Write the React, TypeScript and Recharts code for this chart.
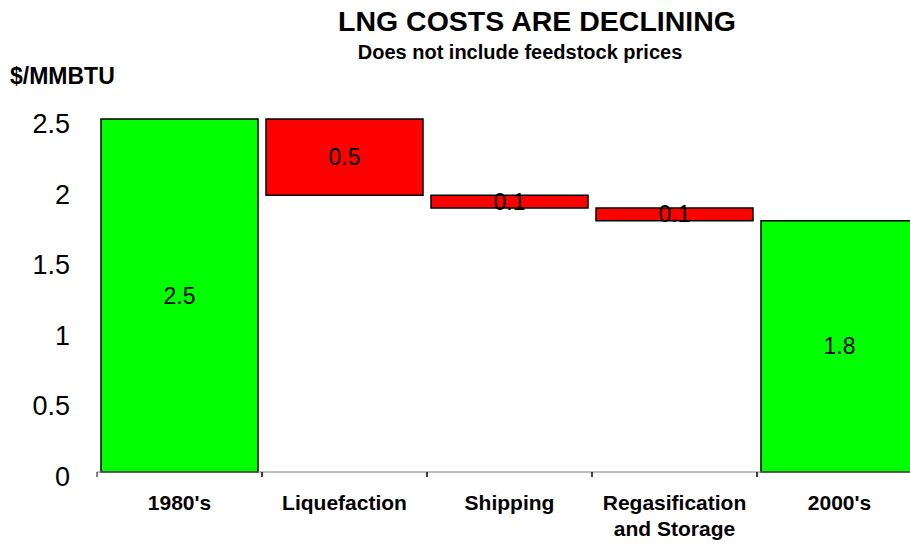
import { BarChart, Bar, XAxis, YAxis, Cell, LabelList } from "recharts";

// waterfall steps, $/MMBTU
const categories = ["1980's", "Liquefaction", "Shipping", "Regasification and Storage", "2000's"];
const costs = [2.5, 0.54, 0.09, 0.09, 1.78];
const kinds = ["total", "step", "step", "step", "total"];
const yTicks = [0, 0.5, 1, 1.5, 2, 2.5];

const FONT = "'Liberation Sans', Arial, Helvetica, sans-serif";
const PLOT_LEFT = 97;
const PLOT_RIGHT = 922;
const BAND = (PLOT_RIGHT - PLOT_LEFT) / categories.length;

function buildRows() {
  let level = 0;
  return categories.map((name, i) => {
    const v = costs[i];
    if (kinds[i] === "total") {
      level = v;
      return { name, base: 0, delta: v, kind: kinds[i] };
    }
    level = level - v;
    return { name, base: level, delta: v, kind: kinds[i] };
  });
}

const rows = buildRows();

function CategoryTick(props: any) {
  const { x, y, payload } = props;
  const words = String(payload.value);
  const lines = words === "Regasification and Storage" ? ["Regasification", "and Storage"] : [words];
  const left = x - BAND / 2;
  return (
    <g>
      <line x1={left} y1={y} x2={left} y2={y + 5} stroke="#000" strokeWidth={1} />
      <line x1={left + BAND} y1={y} x2={left + BAND} y2={y + 5} stroke="#000" strokeWidth={1} />
      {lines.map((ln, i) => (
        <text
          key={i}
          x={x}
          y={y + 38 + i * 26}
          textAnchor="middle"
          fontFamily={FONT}
          fontWeight="bold"
          fontSize={21}
          fill="#000"
        >
          {ln}
        </text>
      ))}
    </g>
  );
}

function ValueTick(props: any) {
  const { x, y, payload } = props;
  return (
    <text x={x} y={y + 14} textAnchor="end" fontFamily={FONT} fontSize={27} fill="#000">
      {payload.value}
    </text>
  );
}

export default function App() {
  return (
    <div style={{ position: "fixed", left: 0, top: 0, width: 910, height: 545, overflow: "hidden", background: "#fff" }}>
      <BarChart
        width={925}
        height={545}
        data={rows}
        margin={{ top: 119, right: 925 - PLOT_RIGHT, bottom: 0, left: 0 }}
        barCategoryGap={4}
      >
        <XAxis
          dataKey="name"
          interval={0}
          tickSize={0}
          tickMargin={0}
          tickLine={false}
          height={73}
          axisLine={{ stroke: "#808080", strokeWidth: 1 }}
          tick={(p: any) => <CategoryTick {...p} />}
        />
        <YAxis
          domain={[0, 2.5]}
          ticks={yTicks}
          width={PLOT_LEFT}
          axisLine={false}
          tickLine={false}
          tickSize={0}
          tickMargin={27}
          tick={(p: any) => <ValueTick {...p} />}
        />
        <Bar dataKey="base" stackId="w" fill="transparent" stroke="none" isAnimationActive={false} />
        <Bar dataKey="delta" stackId="w" stroke="#000" strokeWidth={1.5} isAnimationActive={false}>
          {rows.map((r, i) => (
            <Cell key={i} fill={r.kind === "total" ? "#00ff00" : "#ff0000"} />
          ))}
          <LabelList
            dataKey="delta"
            position="center"
            formatter={(v: any) => Number(v).toFixed(1)}
            style={{ fontFamily: FONT, fontSize: 23, fill: "#000" }}
          />
        </Bar>
      </BarChart>
      <svg width={910} height={100} style={{ position: "absolute", left: 0, top: 0, pointerEvents: "none" }}>
        <text x={537} y={31} textAnchor="middle" fontFamily={FONT} fontWeight="bold" fontSize={28.5} fill="#000">
          LNG COSTS ARE DECLINING
        </text>
        <text x={520} y={59} textAnchor="middle" fontFamily={FONT} fontWeight="bold" fontSize={20} fill="#000">
          Does not include feedstock prices
        </text>
        <text x={10} y={84} fontFamily={FONT} fontWeight="bold" fontSize={23} fill="#000">
          $/MMBTU
        </text>
      </svg>
    </div>
  );
}
